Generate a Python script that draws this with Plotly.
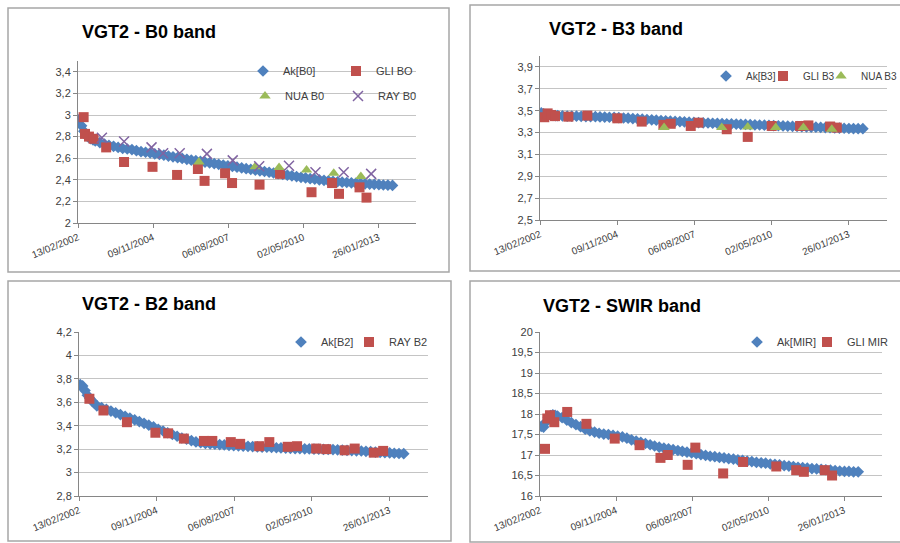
import plotly.graph_objects as go

W, H = 900, 543

# ---------------- data ----------------
AK_DATES = ["2002-03-01", "2002-04-01", "2002-05-01", "2002-06-01", "2002-07-01", "2002-08-01",
            "2002-09-01", "2002-10-01", "2002-12-01",
            "2003-02-01", "2003-04-01", "2003-06-01", "2003-08-01", "2003-10-01", "2003-12-01",
            "2004-02-01", "2004-04-01", "2004-06-01", "2004-08-01", "2004-10-01", "2004-12-01",
            "2005-02-01", "2005-04-01", "2005-06-01", "2005-08-01", "2005-10-01", "2005-12-01",
            "2006-02-01", "2006-04-01", "2006-06-01", "2006-08-01", "2006-10-01", "2006-12-01",
            "2007-02-01", "2007-04-01", "2007-06-01", "2007-08-01", "2007-10-01", "2007-12-01",
            "2008-02-01", "2008-04-01", "2008-06-01", "2008-08-01", "2008-10-01", "2008-12-01",
            "2009-02-01", "2009-04-01", "2009-06-01", "2009-08-01", "2009-10-01", "2009-12-01",
            "2010-02-01", "2010-04-01", "2010-06-01", "2010-08-01", "2010-10-01", "2010-12-01",
            "2011-02-01", "2011-04-01", "2011-06-01", "2011-08-01", "2011-10-01", "2011-12-01",
            "2012-02-01", "2012-04-01", "2012-06-01", "2012-08-01", "2012-10-01", "2012-12-01",
            "2013-02-01", "2013-04-01", "2013-06-01", "2013-08-01"]

AK_B0 = [2.96, 2.90, 2.85, 2.81, 2.795, 2.78, 2.77, 2.76, 2.745,
         2.73, 2.72, 2.71, 2.70, 2.69, 2.685,
         2.68, 2.67, 2.66, 2.655, 2.65, 2.64,
         2.635, 2.628, 2.62, 2.613, 2.605, 2.598,
         2.59, 2.583, 2.577, 2.57, 2.563, 2.557,
         2.55, 2.543, 2.537, 2.53, 2.523, 2.517,
         2.51, 2.503, 2.497, 2.49, 2.483, 2.477,
         2.47, 2.463, 2.457, 2.45, 2.443, 2.437,
         2.43, 2.423, 2.417, 2.41, 2.405, 2.40,
         2.395, 2.39, 2.386, 2.382, 2.378, 2.375,
         2.372, 2.369, 2.366, 2.363, 2.36, 2.358,
         2.355, 2.352, 2.35, 2.348]

AK_B3 = [3.48, 3.47, 3.465, 3.46, 3.458, 3.456, 3.455, 3.455, 3.452,
         3.45, 3.45, 3.45, 3.448, 3.446, 3.445,
         3.445, 3.443, 3.441, 3.44, 3.438, 3.436,
         3.433, 3.431, 3.428, 3.425, 3.422, 3.419,
         3.416, 3.413, 3.41, 3.407, 3.404, 3.402,
         3.40, 3.398, 3.395, 3.392, 3.39, 3.389,
         3.387, 3.385, 3.384, 3.382, 3.38, 3.379,
         3.377, 3.375, 3.374, 3.372, 3.37, 3.369,
         3.367, 3.365, 3.364, 3.362, 3.36, 3.359,
         3.357, 3.355, 3.354, 3.352, 3.35, 3.349,
         3.347, 3.345, 3.344, 3.342, 3.34, 3.339,
         3.337, 3.336, 3.335, 3.335]

AK_B2 = [3.75, 3.74, 3.70, 3.66, 3.635, 3.61, 3.59, 3.57, 3.555,
         3.54, 3.525, 3.51, 3.495, 3.48, 3.465,
         3.45, 3.435, 3.42, 3.405, 3.39, 3.37,
         3.355, 3.34, 3.325, 3.31, 3.295, 3.285,
         3.272, 3.262, 3.255, 3.249, 3.245, 3.242,
         3.239, 3.236, 3.233, 3.23, 3.228, 3.226,
         3.224, 3.222, 3.22, 3.218, 3.216, 3.214,
         3.212, 3.21, 3.209, 3.207, 3.205, 3.204,
         3.203, 3.202, 3.20, 3.199, 3.198, 3.197,
         3.196, 3.194, 3.192, 3.19, 3.188, 3.186,
         3.184, 3.181, 3.178, 3.175, 3.172, 3.17,
         3.168, 3.165, 3.163, 3.161]

AK_MIR = [17.70, 17.68, 17.80, 17.92, 17.96, 17.98, 17.97, 17.95, 17.91,
          17.85, 17.79, 17.74, 17.69, 17.63, 17.59,
          17.56, 17.53, 17.51, 17.50, 17.48, 17.46,
          17.44, 17.41, 17.37, 17.34, 17.31, 17.28,
          17.25, 17.22, 17.19, 17.17, 17.15, 17.13,
          17.11, 17.09, 17.07, 17.05, 17.03, 17.01,
          16.99, 16.97, 16.96, 16.94, 16.93, 16.91,
          16.90, 16.88, 16.87, 16.85, 16.84, 16.82,
          16.81, 16.80, 16.78, 16.77, 16.76, 16.74,
          16.73, 16.72, 16.70, 16.69, 16.68, 16.67,
          16.66, 16.65, 16.64, 16.63, 16.62, 16.61,
          16.60, 16.60, 16.59, 16.59]

GLI_B0_DATES = ["2002-04-29", "2002-05-17", "2002-07-09", "2002-09-08", "2003-02-23", "2003-10-19",
                "2004-11-01", "2005-09-24", "2006-06-28", "2006-09-25", "2007-06-25", "2007-09-26",
                "2008-09-26", "2009-06-26", "2010-08-19", "2011-05-20", "2011-08-20", "2012-05-19",
                "2012-08-20"]
GLI_B0 = [2.98, 2.825, 2.80, 2.78, 2.70, 2.565,
          2.52, 2.445, 2.50, 2.39, 2.46, 2.37,
          2.355, 2.455, 2.285, 2.37, 2.27, 2.33,
          2.235]

NUA_B0_DATES = ["2006-07-12", "2008-07-30", "2009-06-13", "2010-06-14", "2011-06-11", "2012-06-06"]
NUA_B0 = [2.565, 2.52, 2.515, 2.49, 2.46, 2.43]

RAY_B0_DATES = ["2002-12-28", "2003-10-19", "2004-10-19", "2005-03-22", "2005-10-29", "2006-10-26",
                "2007-10-05", "2008-09-21", "2009-10-23", "2010-10-11", "2011-10-21", "2012-10-21"]
RAY_B0 = [2.79, 2.755, 2.70, 2.645, 2.645, 2.64,
          2.58, 2.525, 2.53, 2.47, 2.47, 2.455]

GLI_B3_DATES = ["2002-04-10", "2002-05-23", "2002-07-06", "2002-08-27", "2003-02-16", "2003-10-20",
                "2004-11-12", "2005-09-24", "2006-07-02", "2006-10-05", "2007-06-22", "2007-09-29",
                "2008-10-01", "2009-06-30", "2010-05-07", "2011-05-10", "2011-08-26", "2012-06-02",
                "2012-08-28"]
GLI_B3 = [3.44, 3.475, 3.46, 3.45, 3.445, 3.455,
          3.43, 3.40, 3.37, 3.38, 3.36, 3.39,
          3.33, 3.26, 3.36, 3.36, 3.365, 3.355,
          3.345]

NUA_B3_DATES = ["2006-07-11", "2008-07-28", "2009-06-30", "2010-06-28", "2011-06-22", "2012-06-24"]
NUA_B3 = [3.345, 3.345, 3.35, 3.345, 3.345, 3.33]

RAY_B2_DATES = ["2002-06-27", "2002-12-25", "2003-10-24", "2004-10-25", "2005-04-07", "2005-10-27",
                "2006-07-13", "2006-10-29", "2007-06-24", "2007-10-23", "2008-06-25", "2008-11-02",
                "2009-06-27", "2009-10-26", "2010-06-29", "2010-11-06", "2011-07-01", "2011-11-08",
                "2012-07-11", "2012-11-09"]
RAY_B2 = [3.63, 3.53, 3.43, 3.34, 3.335, 3.29,
          3.27, 3.27, 3.26, 3.245, 3.225, 3.26,
          3.22, 3.225, 3.205, 3.20, 3.19, 3.205,
          3.17, 3.185]

GLI_MIR_DATES = ["2002-04-20", "2002-05-20", "2002-06-24", "2002-08-20", "2003-02-06", "2003-10-17",
                 "2004-10-23", "2005-09-15", "2006-06-17", "2006-09-21", "2007-06-10", "2007-09-19",
                 "2008-09-19", "2009-06-08", "2010-08-19", "2011-05-08", "2011-08-17", "2012-05-18",
                 "2012-08-22"]
GLI_MIR = [17.15, 17.89, 17.97, 17.80, 18.05, 17.76,
           17.40, 17.24, 16.93, 17.00, 16.76, 17.18,
           16.55, 16.83, 16.72, 16.63, 16.59, 16.63,
           16.50]

X_TICK_DATES = ["2002-02-13", "2004-11-09", "2007-08-06", "2010-05-02", "2013-01-26"]
X_TICK_TEXT = ["13/02/2002", "09/11/2004", "06/08/2007", "02/05/2010", "26/01/2013"]
X_RANGE = ["2002-02-13", "2014-06-10"]

B0_YTICKS = [2.0, 2.2, 2.4, 2.6, 2.8, 3.0, 3.2, 3.4]
B0_YTEXT = ["2", "2,2", "2,4", "2,6", "2,8", "3", "3,2", "3,4"]
B3_YTICKS = [2.5, 2.7, 2.9, 3.1, 3.3, 3.5, 3.7, 3.9]
B3_YTEXT = ["2,5", "2,7", "2,9", "3,1", "3,3", "3,5", "3,7", "3,9"]
B2_YTICKS = [2.8, 3.0, 3.2, 3.4, 3.6, 3.8, 4.0, 4.2]
B2_YTEXT = ["2,8", "3", "3,2", "3,4", "3,6", "3,8", "4", "4,2"]
MIR_YTICKS = [16, 16.5, 17, 17.5, 18, 18.5, 19, 19.5, 20]
MIR_YTEXT = ["16", "16,5", "17", "17,5", "18", "18,5", "19", "19,5", "20"]

TITLES = ["VGT2 - B0 band", "VGT2 - B3 band", "VGT2 - B2 band", "VGT2 - SWIR band"]

# ---------------- styling ----------------
BLUE, RED, GREEN, PURPLE = "#4F81BD", "#C0504D", "#9BBB59", "#8064A2"
FONT = "Liberation Sans, Arial, sans-serif"


def px_x(p):
    return p / W


def px_y(p):
    return 1 - p / H


fig = go.Figure()

# panel plot-area pixel boxes: (left, right, top, bottom)
panels = [
    dict(box=(78, 416, 61, 223), yr=[2.0, 3.5], yt=B0_YTICKS, ytt=B0_YTEXT, title_xy=(80, 32)),
    dict(box=(540, 887, 56, 220), yr=[2.5, 4.0], yt=B3_YTICKS, ytt=B3_YTEXT, title_xy=(547, 29)),
    dict(box=(79, 428, 332, 496), yr=[2.8, 4.2], yt=B2_YTICKS, ytt=B2_YTEXT, title_xy=(80, 304)),
    dict(box=(540, 882, 332, 496), yr=[16, 20], yt=MIR_YTICKS, ytt=MIR_YTEXT, title_xy=(541, 306)),
]

series = [
    # (panel index, name, x, y, kind, legend symbol centre px (x, y), legend font size)
    (0, "Ak[B0]", AK_DATES, AK_B0, "ak", (262, 71), 11),
    (0, "GLI BO", GLI_B0_DATES, GLI_B0, "sq", (355, 71), 11),
    (0, "NUA B0", NUA_B0_DATES, NUA_B0, "tri", (264, 96), 11),
    (0, "RAY B0", RAY_B0_DATES, RAY_B0, "x", (357, 96), 11),
    (1, "Ak[B3]", AK_DATES, AK_B3, "ak", (725, 76), 10),
    (1, "GLI B3", GLI_B3_DATES, GLI_B3, "sq", (782, 76), 10),
    (1, "NUA B3", NUA_B3_DATES, NUA_B3, "tri", (840, 76), 10),
    (2, "Ak[B2]", AK_DATES, AK_B2, "ak", (300, 342), 11),
    (2, "RAY B2", RAY_B2_DATES, RAY_B2, "sq", (368, 342), 11),
    (3, "Ak[MIR]", AK_DATES, AK_MIR, "ak", (756, 342), 11),
    (3, "GLI MIR", GLI_MIR_DATES, GLI_MIR, "sq", (826, 342), 11),
]

marker_styles = {
    "ak": dict(symbol="diamond", size=9, color=BLUE),
    "sq": dict(symbol="square", size=10, color=RED),
    "tri": dict(symbol="triangle-up", size=10, color=GREEN),
    "x": dict(symbol="x-thin-open", size=10, color=PURPLE, line=dict(width=1.5, color=PURPLE)),
}

legends = {}
for i, (pi, name, xs, ys, kind, (lx, ly), fs) in enumerate(series):
    sfx = "" if pi == 0 else str(pi + 1)
    lname = "legend" if i == 0 else f"legend{i + 1}"
    fig.add_trace(go.Scatter(
        x=xs, y=ys, mode="markers", name=name,
        marker=marker_styles[kind],
        xaxis="x" + sfx, yaxis="y" + sfx,
        legend=lname, showlegend=True,
    ))
    legends[lname] = dict(
        x=px_x(lx - 19), y=px_y(ly), xanchor="left", yanchor="middle",
        bgcolor="rgba(0,0,0,0)", borderwidth=0, itemwidth=30,
        font=dict(family=FONT, size=fs, color="#404040"),
    )

layout = dict(
    width=W, height=H, margin=dict(l=0, r=0, t=0, b=0, autoexpand=False),
    paper_bgcolor="white", plot_bgcolor="rgba(0,0,0,0)",
    font=dict(family=FONT, color="#404040"),
)
layout.update(legends)

annotations = []
for pi, p in enumerate(panels):
    l, r, t, b = p["box"]
    sfx = "" if pi == 0 else str(pi + 1)
    layout["xaxis" + sfx] = dict(
        domain=[px_x(l), px_x(r)], anchor="y" + sfx, type="date", range=X_RANGE,
        tickmode="array", tickvals=X_TICK_DATES, ticktext=X_TICK_TEXT, tickangle=-22,
        showgrid=False, showline=True, linecolor="#868686", linewidth=1,
        ticks="outside", ticklen=4, tickcolor="#868686", automargin=False,
        tickfont=dict(family=FONT, size=10, color="#404040"), zeroline=False,
    )
    layout["yaxis" + sfx] = dict(
        domain=[px_y(b), px_y(t)], anchor="x" + sfx, range=p["yr"],
        tickmode="array", tickvals=p["yt"], ticktext=p["ytt"],
        showgrid=True, gridcolor="#c4c4c4", gridwidth=1,
        showline=True, linecolor="#868686", linewidth=1,
        ticks="outside", ticklen=4, tickcolor="#868686", automargin=False,
        tickfont=dict(family=FONT, size=11, color="#404040"), zeroline=False,
    )
    tx, ty = p["title_xy"]
    annotations.append(dict(
        text="<b>" + TITLES[pi] + "</b>", xref="paper", yref="paper",
        x=px_x(tx), y=px_y(ty), xanchor="left", yanchor="middle", showarrow=False,
        font=dict(family=FONT, size=18, color="black"),
    ))

layout["annotations"] = annotations

borders = [(8, 449, 8, 272), (470, 905, 5, 271), (8, 451, 281, 541), (470, 905, 281, 542)]
layout["shapes"] = [
    dict(type="rect", xref="paper", yref="paper", x0=px_x(a), x1=px_x(b2), y0=px_y(c), y1=px_y(d),
         line=dict(color="#a6a6a6", width=1.5), layer="below")
    for (a, b2, c, d) in borders
]

fig.update_layout(**layout)
fig.write_html("out.html")
